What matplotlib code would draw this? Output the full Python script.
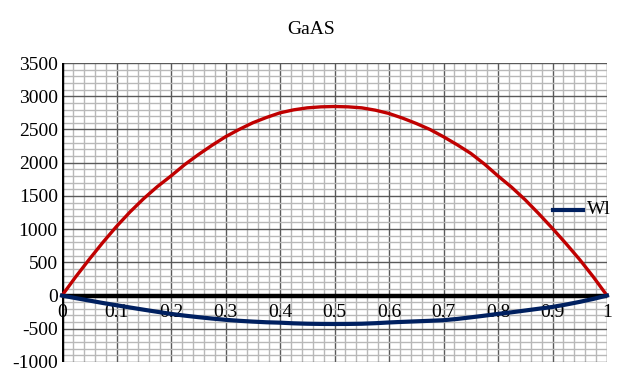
import matplotlib
matplotlib.use("Agg")
import matplotlib.pyplot as plt
from matplotlib.ticker import MultipleLocator

plt.rcParams['font.family'] = ['Liberation Serif', 'DejaVu Serif']

x_vals = [0.0, 0.025, 0.05, 0.075, 0.1, 0.125, 0.15, 0.175, 0.2, 0.225, 0.25,
          0.275, 0.3, 0.325, 0.35, 0.375, 0.4, 0.425, 0.45, 0.475, 0.5,
          0.525, 0.55, 0.575, 0.6, 0.625, 0.65, 0.675, 0.7, 0.725, 0.75,
          0.775, 0.8, 0.825, 0.85, 0.875, 0.9, 0.925, 0.95, 0.975, 1.0]
red_vals = [0, 280, 545, 800, 1040, 1260, 1460, 1640, 1800, 1970, 2120,
            2260, 2390, 2500, 2600, 2680, 2750, 2795, 2825, 2840, 2845,
            2840, 2825, 2790, 2740, 2670, 2590, 2500, 2390, 2270, 2140,
            1980, 1800, 1630, 1440, 1230, 1010, 780, 540, 280, 0]
wl_vals = [0, -38, -75, -112, -146, -180, -213, -245, -276, -302, -325,
           -346, -365, -380, -392, -402, -408, -418, -424, -427, -428,
           -427, -424, -416, -405, -396, -388, -380, -371, -352, -328,
           -303, -276, -252, -225, -198, -171, -135, -95, -50, 0]

x_ticks = [0, 0.1, 0.2, 0.3, 0.4, 0.5, 0.6, 0.7, 0.8, 0.9, 1]
x_tick_labels = ['0', '0.1', '0.2', '0.3', '0.4', '0.5', '0.6', '0.7', '0.8', '0.9', '1']
y_ticks = [-1000, -500, 0, 500, 1000, 1500, 2000, 2500, 3000, 3500]

fig = plt.figure(figsize=(6.24, 3.82), dpi=100)
ax = fig.add_axes([62/624, 20/382, 545/624, 299/382])
ax.set_xlim(0, 1)
ax.set_ylim(-1000, 3500)

ax.xaxis.set_major_locator(MultipleLocator(0.1))
ax.xaxis.set_minor_locator(MultipleLocator(0.02))
ax.yaxis.set_major_locator(MultipleLocator(500))
ax.yaxis.set_minor_locator(MultipleLocator(100))
ax.grid(which='minor', color='#b8b8b8', lw=1.0)
ax.grid(which='major', color='#5a5a5a', lw=1.0)
ax.set_axisbelow(True)

for s in ax.spines.values():
    s.set_visible(False)

ax.set_yticks(y_ticks)
ax.set_yticklabels([str(v) for v in y_ticks], fontsize=14)
ax.tick_params(axis='y', length=0, pad=3)
ax.tick_params(axis='x', length=0, labelbottom=False)
ax.tick_params(which='minor', length=0)

ax.axvline(0, color='black', lw=3.2, zorder=3)
ax.axhline(0, color='black', lw=3.2, zorder=3)

for xv, lab in zip(x_ticks, x_tick_labels):
    ax.annotate(lab, (xv, 0), xytext=(0, -6), textcoords='offset points',
                ha='center', va='top', fontsize=14, zorder=2)

ax.plot(x_vals, red_vals, color='#c00000', lw=2.4, zorder=4, clip_on=False)
ax.plot(x_vals, wl_vals, color='#002060', lw=3.0, zorder=4, clip_on=False)

fig.text(311/624, 1 - 29/382, 'GaAS', ha='center', va='center', fontsize=14)

# legend
fig.add_artist(plt.Line2D([553/624, 583/624], [1 - 210/382, 1 - 210/382],
                          color='#002060', lw=3.0))
fig.text(587/624, 1 - 210/382, 'Wl', ha='left', va='center', fontsize=14)

fig.savefig('out.png', dpi=100)
